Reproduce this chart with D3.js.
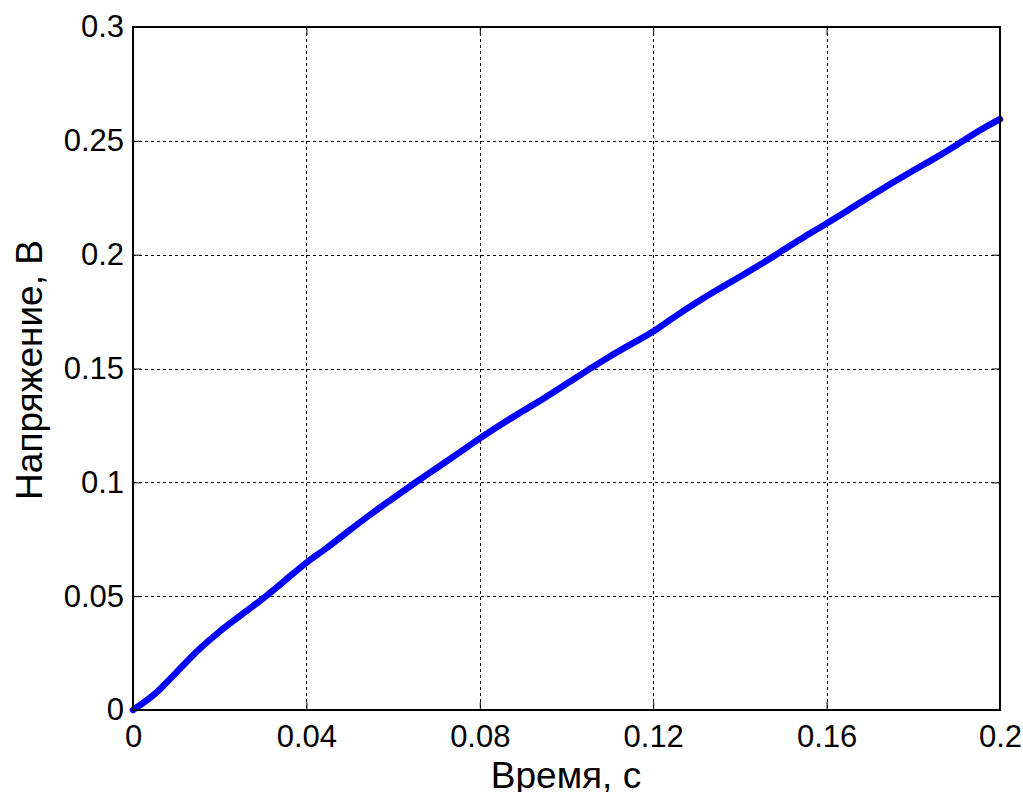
<!DOCTYPE html>
<html>
<head>
<meta charset="utf-8">
<script src="https://cdn.jsdelivr.net/npm/d3@7"></script>
<style>
  html, body { margin: 0; padding: 0; background: #fff; }
  svg { display: block; }
  text { font-family: "Liberation Sans", Arial, sans-serif; fill: #000; }
</style>
</head>
<body>
<svg id="chart" width="1023" height="792"></svg>
<script>
// Time samples, s
const time = [0, 0.005, 0.010, 0.015, 0.020, 0.025, 0.030, 0.035, 0.040, 0.045,
  0.050, 0.055, 0.060, 0.065, 0.070, 0.075, 0.080, 0.085, 0.090, 0.095,
  0.100, 0.105, 0.110, 0.115, 0.120, 0.125, 0.130, 0.135, 0.140, 0.145,
  0.150, 0.155, 0.160, 0.165, 0.170, 0.175, 0.180, 0.185, 0.190, 0.195, 0.200];
// Voltage, V
const voltage = [0.000, 0.0070, 0.0165, 0.0262, 0.0345, 0.0418, 0.0490, 0.0568, 0.0647, 0.0716,
  0.0790, 0.0862, 0.0930, 0.0997, 0.1062, 0.1127, 0.1193, 0.1255, 0.1314, 0.1372,
  0.1433, 0.1494, 0.1553, 0.1608, 0.1662, 0.1728, 0.1790, 0.1848, 0.1903, 0.1960,
  0.2020, 0.2080, 0.2137, 0.2196, 0.2256, 0.2314, 0.2370, 0.2424, 0.2482, 0.2542, 0.2595];

const xTicks = [0, 0.04, 0.08, 0.12, 0.16, 0.2];
const xTickLabels = ["0", "0.04", "0.08", "0.12", "0.16", "0.2"];
const yTicks = [0, 0.05, 0.1, 0.15, 0.2, 0.25, 0.3];
const yTickLabels = ["0", "0.05", "0.1", "0.15", "0.2", "0.25", "0.3"];

const xLabel = "Время, с";
const yLabel = "Напряжение, В";

const plotLeft = 133, plotRight = 1000, plotTop = 27, plotBottom = 710;
const x = d3.scaleLinear().domain([0, 0.2]).range([plotLeft, plotRight]);
const y = d3.scaleLinear().domain([0, 0.3]).range([plotBottom, plotTop]);

const svg = d3.select("#chart");

// dotted grid
const grid = svg.append("g").attr("stroke", "#000").attr("stroke-width", 1)
  .attr("stroke-dasharray", "3,3").attr("shape-rendering", "crispEdges");
grid.selectAll("line.gx").data(xTicks.slice(1, -1)).join("line")
  .attr("x1", d => Math.round(x(d)) + 0.5).attr("x2", d => Math.round(x(d)) + 0.5)
  .attr("y1", plotTop).attr("y2", plotBottom);
grid.selectAll("line.gy").data(yTicks.slice(1, -1)).join("line")
  .attr("y1", d => Math.round(y(d)) + 0.5).attr("y2", d => Math.round(y(d)) + 0.5)
  .attr("x1", plotLeft).attr("x2", plotRight);

// voltage curve
const line = d3.line().x((d, i) => x(time[i])).y(d => y(d)).curve(d3.curveMonotoneX);
svg.append("path").datum(voltage)
  .attr("d", line)
  .attr("fill", "none").attr("stroke", "#0000ff").attr("stroke-width", 6.5)
  .attr("stroke-linejoin", "round").attr("stroke-linecap", "round");

// axes with inward ticks on all four sides
const tickLen = 8;
const tickFont = 31;
const axB = d3.axisBottom(x).tickValues(xTicks).tickFormat((d, i) => xTickLabels[i])
  .tickSizeInner(-tickLen).tickSizeOuter(0).tickPadding(15);
const axL = d3.axisLeft(y).tickValues(yTicks).tickFormat((d, i) => yTickLabels[i])
  .tickSizeInner(-tickLen).tickSizeOuter(0).tickPadding(9);
const axT = d3.axisTop(x).tickValues(xTicks).tickFormat("").tickSizeInner(-tickLen).tickSizeOuter(0);
const axR = d3.axisRight(y).tickValues(yTicks).tickFormat("").tickSizeInner(-tickLen).tickSizeOuter(0);

function style(g) {
  g.select(".domain").remove();
  g.selectAll("line").attr("stroke", "#000").attr("stroke-width", 1);
  g.selectAll("text").attr("font-size", tickFont)
    .attr("font-family", "Liberation Sans, Arial, sans-serif").attr("fill", "#000");
}
svg.append("g").attr("transform", `translate(0,${plotBottom})`).call(axB).call(style);
svg.append("g").attr("transform", `translate(${plotLeft},0)`).call(axL).call(style);
svg.append("g").attr("transform", `translate(0,${plotTop})`).call(axT).call(style);
svg.append("g").attr("transform", `translate(${plotRight},0)`).call(axR).call(style);

// frame
svg.append("rect").attr("x", plotLeft).attr("y", plotTop)
  .attr("width", plotRight - plotLeft).attr("height", plotBottom - plotTop)
  .attr("fill", "none").attr("stroke", "#000").attr("stroke-width", 2);

// axis titles
svg.append("text").attr("x", 566).attr("y", 788)
  .attr("text-anchor", "middle").attr("font-size", 37).text(xLabel);
svg.append("text").attr("transform", `translate(42,370) rotate(-90)`)
  .attr("text-anchor", "middle").attr("font-size", 37).text(yLabel);
</script>
</body>
</html>
